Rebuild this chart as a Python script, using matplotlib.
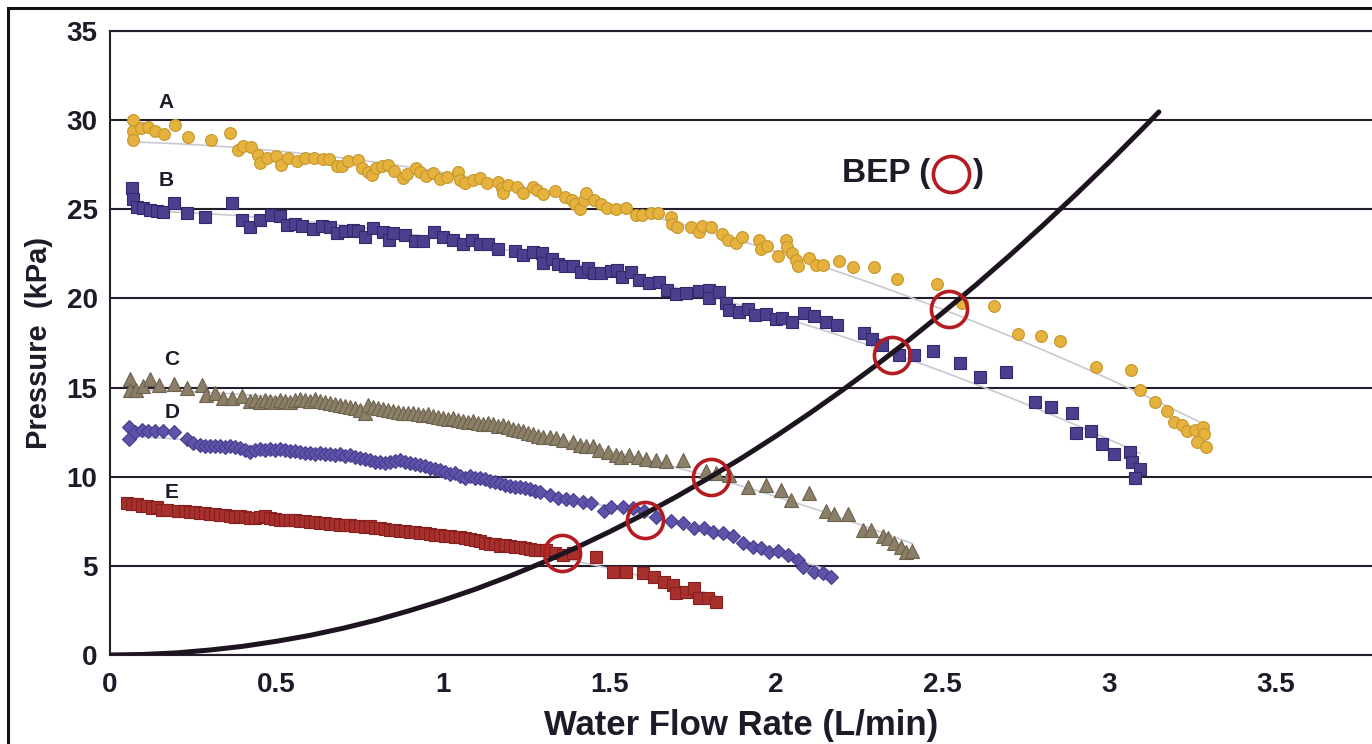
import numpy as np
import matplotlib
matplotlib.use("Agg")
import matplotlib.pyplot as plt
from matplotlib.patches import Rectangle

plt.rcParams["font.family"] = ["Liberation Sans", "DejaVu Sans"]
plt.rcParams["font.weight"] = "bold"

# ---- data ----
a_x = [0.069, 0.069, 0.069, 0.093, 0.114, 0.135, 0.162, 0.195, 0.234, 0.303, 0.36, 0.384, 0.399, 0.423,
       0.444, 0.45, 0.47, 0.50, 0.513, 0.534, 0.561, 0.585, 0.612, 0.639, 0.657, 0.681, 0.696, 0.714,
       0.744, 0.756, 0.774, 0.786, 0.80, 0.816, 0.834, 0.852, 0.879, 0.891, 0.918, 0.93, 0.948, 0.969,
       0.99, 1.011, 1.044, 1.05, 1.065, 1.089, 1.11, 1.131, 1.164, 1.176, 1.179, 1.194, 1.221, 1.239,
       1.269, 1.281, 1.299, 1.335, 1.365, 1.386, 1.395, 1.41, 1.425, 1.431, 1.455, 1.476, 1.494, 1.521,
       1.551, 1.581, 1.599, 1.626, 1.647, 1.686, 1.689, 1.704, 1.746, 1.77, 1.779, 1.806, 1.839, 1.857,
       1.881, 1.899, 1.95, 1.956, 1.974, 2.007, 2.031, 2.034, 2.049, 2.061, 2.067, 2.10, 2.121, 2.142,
       2.19, 2.232, 2.295, 2.364, 2.484, 2.559, 2.655, 2.727, 2.796, 2.853, 2.961, 3.066, 3.093, 3.138,
       3.174, 3.195, 3.219, 3.234, 3.258, 3.282, 3.285, 3.264, 3.291]
a_y = [30.0, 29.4, 28.9, 29.55, 29.6, 29.4, 29.2, 29.7, 29.05, 28.9, 29.3, 28.3, 28.55, 28.5,
       28.05, 27.6, 27.9, 28.0, 27.5, 27.85, 27.7, 27.85, 27.85, 27.8, 27.8, 27.4, 27.4, 27.7,
       27.75, 27.3, 27.1, 26.9, 27.3, 27.4, 27.5, 27.15, 26.75, 27.0, 27.3, 27.1, 26.85, 27.05,
       26.7, 26.8, 27.1, 26.65, 26.5, 26.65, 26.75, 26.5, 26.55, 26.2, 25.9, 26.35, 26.25, 25.9,
       26.25, 26.1, 25.85, 26.0, 25.7, 25.5, 25.3, 25.0, 25.5, 25.9, 25.5, 25.3, 25.05, 25.0,
       25.1, 24.7, 24.7, 24.8, 24.8, 24.55, 24.2, 24.0, 24.0, 23.7, 24.05, 24.0, 23.6, 23.3,
       23.1, 23.45, 23.3, 22.8, 22.95, 22.4, 23.3, 22.9, 22.55, 22.15, 21.8, 22.25, 21.9, 21.85,
       22.1, 21.75, 21.75, 21.1, 20.8, 19.75, 19.6, 18.0, 17.9, 17.6, 16.15, 16.0, 14.85, 14.2,
       13.7, 13.05, 12.9, 12.55, 12.6, 12.8, 12.4, 11.95, 11.65]

b_x = [0.066, 0.069, 0.081, 0.099, 0.12, 0.141, 0.159, 0.192, 0.231, 0.285, 0.366, 0.396, 0.42, 0.45,
       0.483, 0.51, 0.531, 0.555, 0.576, 0.609, 0.636, 0.66, 0.681, 0.705, 0.729, 0.744, 0.765, 0.789,
       0.819, 0.837, 0.849, 0.885, 0.915, 0.939, 0.972, 0.999, 1.029, 1.059, 1.086, 1.11, 1.134, 1.164,
       1.215, 1.239, 1.269, 1.296, 1.299, 1.326, 1.344, 1.365, 1.389, 1.413, 1.437, 1.455, 1.476, 1.506,
       1.524, 1.539, 1.566, 1.59, 1.62, 1.65, 1.674, 1.701, 1.731, 1.77, 1.80, 1.80, 1.83, 1.851, 1.86,
       1.89, 1.917, 1.938, 1.971, 2.001, 2.019, 2.049, 2.085, 2.115, 2.151, 2.184, 2.265, 2.289, 2.319,
       2.37, 2.415, 2.472, 2.553, 2.613, 2.691, 2.778, 2.826, 2.889, 2.901, 2.946, 2.979, 3.015, 3.063,
       3.069, 3.093, 3.078]
b_y = [26.2, 25.6, 25.15, 25.1, 24.95, 24.9, 24.85, 25.35, 24.8, 24.55, 25.35, 24.4, 24.0, 24.4,
       24.7, 24.6, 24.1, 24.2, 24.05, 23.9, 24.05, 24.0, 23.65, 23.8, 23.85, 23.8, 23.45, 23.95,
       23.75, 23.3, 23.65, 23.55, 23.2, 23.2, 23.7, 23.45, 23.3, 23.05, 23.3, 23.05, 23.05, 22.8,
       22.65, 22.45, 22.6, 22.55, 22.0, 22.2, 21.95, 21.8, 21.8, 21.5, 21.7, 21.45, 21.45, 21.55,
       21.6, 21.2, 21.5, 21.05, 20.85, 20.9, 20.45, 20.25, 20.3, 20.4, 20.5, 20.0, 20.35, 19.75, 19.35,
       19.25, 19.4, 19.05, 19.1, 18.85, 18.9, 18.7, 19.2, 19.0, 18.7, 18.5, 18.05, 17.7, 17.4,
       16.8, 16.8, 17.05, 16.4, 15.6, 15.9, 14.2, 13.9, 13.6, 12.45, 12.55, 11.85, 11.3, 11.4,
       10.8, 10.45, 9.9]

c_x = [0.06, 0.06, 0.078, 0.099, 0.12, 0.147, 0.192, 0.231, 0.276, 0.288, 0.315, 0.339, 0.366, 0.396,
       0.42, 0.435, 0.45, 0.465, 0.48, 0.495, 0.51, 0.525, 0.54, 0.555, 0.57, 0.585, 0.60, 0.615,
       0.63, 0.645, 0.66, 0.675, 0.69, 0.705, 0.72, 0.735, 0.75, 0.765, 0.775, 0.79, 0.805, 0.82,
       0.835, 0.85, 0.865, 0.88, 0.895, 0.91, 0.925, 0.94, 0.955, 0.97, 0.985, 1.0, 1.015, 1.03,
       1.045, 1.06, 1.075, 1.09, 1.105, 1.12, 1.135, 1.15, 1.165, 1.18, 1.195, 1.21, 1.225, 1.24,
       1.255, 1.27, 1.285, 1.30, 1.32, 1.34, 1.36, 1.39, 1.41, 1.43, 1.45, 1.47, 1.495, 1.52, 1.535,
       1.56, 1.585, 1.61, 1.64, 1.67, 1.72, 1.79, 1.82, 1.86, 1.915, 1.97, 2.015, 2.045, 2.10, 2.15,
       2.175, 2.215, 2.26, 2.285, 2.32, 2.335, 2.355, 2.375, 2.39, 2.41]
c_y = [15.5, 14.85, 14.85, 15.1, 15.5, 15.15, 15.2, 14.95, 15.15, 14.6, 14.7, 14.4, 14.4, 14.5,
       14.25, 14.3, 14.2, 14.3, 14.25, 14.2, 14.3, 14.25, 14.2, 14.3, 14.35, 14.3, 14.25, 14.35,
       14.25, 14.2, 14.15, 14.1, 14.05, 13.95, 13.9, 13.85, 13.75, 13.6, 14.05, 13.9, 13.85, 13.8,
       13.75, 13.7, 13.65, 13.6, 13.55, 13.6, 13.5, 13.45, 13.5, 13.4, 13.35, 13.3, 13.25, 13.3,
       13.2, 13.1, 13.05, 13.1, 13.0, 12.95, 13.0, 12.95, 12.85, 12.9, 12.8, 12.7, 12.6, 12.55,
       12.45, 12.4, 12.3, 12.2, 12.2, 12.15, 12.05, 11.95, 11.8, 11.7, 11.7, 11.5, 11.4, 11.2, 11.1,
       11.2, 11.1, 11.0, 10.95, 10.9, 10.95, 10.3, 10.2, 10.1, 9.45, 9.55, 9.25, 8.7, 9.1, 8.1,
       7.9, 7.9, 7.0, 7.0, 6.65, 6.55, 6.3, 6.05, 5.8, 5.85]

d_x = [0.057, 0.057, 0.075, 0.096, 0.114, 0.135, 0.159, 0.192, 0.231, 0.249, 0.27,
       0.285, 0.30, 0.315, 0.33, 0.345, 0.36, 0.375, 0.39, 0.405, 0.42, 0.435, 0.45, 0.465, 0.48,
       0.495, 0.51, 0.525, 0.54, 0.555, 0.57, 0.585, 0.60, 0.615, 0.63, 0.645, 0.66, 0.675, 0.69,
       0.705, 0.72, 0.735, 0.75, 0.765, 0.78, 0.795, 0.81, 0.825, 0.84, 0.855, 0.87, 0.885, 0.90,
       0.915, 0.93, 0.945, 0.96, 0.975, 0.99, 1.005, 1.02, 1.035, 1.05, 1.065, 1.08, 1.095, 1.11,
       1.125, 1.14, 1.155, 1.17, 1.185, 1.20, 1.215, 1.23, 1.245, 1.26, 1.275, 1.29, 1.32, 1.345,
       1.37, 1.39, 1.42, 1.445, 1.485, 1.505, 1.54, 1.57, 1.605, 1.64, 1.685, 1.72, 1.755, 1.785,
       1.81, 1.84, 1.87, 1.90, 1.93, 1.955, 1.98, 2.005, 2.035, 2.065, 2.08, 2.115, 2.14, 2.165]
d_y = [12.8, 12.1, 12.5, 12.6, 12.55, 12.55, 12.55, 12.5, 12.1, 11.9, 11.8,
       11.75, 11.7, 11.75, 11.7, 11.65, 11.7, 11.65, 11.6, 11.5, 11.4, 11.5, 11.55, 11.5, 11.55,
       11.5, 11.55, 11.5, 11.45, 11.45, 11.4, 11.35, 11.35, 11.3, 11.35, 11.25, 11.25, 11.2, 11.25,
       11.15, 11.2, 11.1, 11.05, 11.0, 10.95, 10.85, 10.8, 10.75, 10.8, 10.9, 10.95, 10.8, 10.75,
       10.7, 10.65, 10.6, 10.5, 10.45, 10.35, 10.25, 10.15, 10.2, 10.05, 9.95, 10.05, 9.95, 9.9,
       9.85, 9.75, 9.7, 9.65, 9.55, 9.5, 9.45, 9.4, 9.35, 9.3, 9.2, 9.15, 8.97, 8.8,
       8.75, 8.7, 8.6, 8.5, 8.1, 8.3, 8.3, 8.25, 8.1, 7.75, 7.5, 7.4, 7.1, 7.1,
       6.9, 6.85, 6.7, 6.3, 6.05, 6.0, 5.8, 5.85, 5.6, 5.35, 4.95, 4.65, 4.6, 4.4]

e_x = [0.05, 0.065, 0.08, 0.095, 0.11, 0.125, 0.14, 0.155, 0.17, 0.205, 0.225, 0.24, 0.255, 0.27,
       0.285, 0.30, 0.315, 0.33, 0.345, 0.36, 0.375, 0.39, 0.405, 0.42, 0.435, 0.45, 0.465, 0.48,
       0.495, 0.51, 0.525, 0.54, 0.555, 0.57, 0.585, 0.60, 0.615, 0.63, 0.645, 0.66, 0.675, 0.69,
       0.705, 0.72, 0.735, 0.75, 0.765, 0.78, 0.795, 0.81, 0.825, 0.84, 0.855, 0.87, 0.885, 0.90,
       0.915, 0.93, 0.945, 0.96, 0.975, 0.99, 1.005, 1.02, 1.035, 1.05, 1.065, 1.08, 1.095, 1.11,
       1.125, 1.14, 1.155, 1.17, 1.185, 1.20, 1.215, 1.23, 1.245, 1.26, 1.275, 1.29, 1.31, 1.335,
       1.36, 1.39, 1.46, 1.51, 1.55, 1.60, 1.635, 1.665, 1.69, 1.70, 1.73, 1.755, 1.77, 1.795, 1.82]
e_y = [8.55, 8.45, 8.45, 8.35, 8.35, 8.25, 8.3, 8.15, 8.15, 8.1, 8.05, 8.0, 8.0, 7.95,
       7.95, 7.9, 7.9, 7.85, 7.85, 7.8, 7.75, 7.8, 7.75, 7.7, 7.7, 7.75, 7.8, 7.7,
       7.65, 7.6, 7.6, 7.55, 7.55, 7.5, 7.5, 7.45, 7.45, 7.4, 7.4, 7.35, 7.35, 7.3,
       7.3, 7.3, 7.25, 7.25, 7.2, 7.25, 7.15, 7.1, 7.05, 7.0, 7.0, 6.95, 6.95, 6.9,
       6.9, 6.85, 6.85, 6.8, 6.75, 6.75, 6.7, 6.65, 6.6, 6.6, 6.55, 6.5, 6.45, 6.4,
       6.3, 6.25, 6.2, 6.1, 6.15, 6.1, 6.05, 6.05, 6.0, 5.95, 5.9, 5.9, 5.9, 5.7,
       5.6, 5.7, 5.5, 4.65, 4.65, 4.6, 4.4, 4.1, 3.9, 3.5, 3.55, 3.75, 3.2, 3.2, 3.0]

# system curve
sys_x = [0.0, 0.1, 0.2, 0.3, 0.4, 0.5, 0.6, 0.7, 0.8, 0.9, 1.0, 1.1, 1.2, 1.3, 1.4, 1.5, 1.6,
         1.7, 1.8, 1.9, 2.0, 2.1, 2.2, 2.3, 2.4, 2.5, 2.6, 2.7, 2.8, 2.9, 3.0, 3.1, 3.15]
sys_y = [0.0, 0.03, 0.12, 0.28, 0.49, 0.77, 1.1, 1.5, 1.96, 2.49, 3.07, 3.71, 4.42, 5.19, 6.02,
         6.91, 7.86, 8.87, 9.95, 11.08, 12.28, 13.54, 14.86, 16.24, 17.68, 19.19, 20.75, 22.38,
         24.07, 25.82, 27.63, 29.5, 30.46]

# best efficiency points
bep_x = [1.357, 1.608, 1.806, 2.349, 2.52]
bep_y = [5.7, 7.6, 10.0, 16.8, 19.4]

series = [
    ("A", a_x, a_y, "o", 8.5, "#e6b23e", "#c4962c"),
    ("B", b_x, b_y, "s", 8.5, "#4b3f8e", "#35296e"),
    ("C", c_x, c_y, "^", 10, "#8c7f68", "#6d624e"),
    ("D", d_x, d_y, "D", 7.5, "#5d54aa", "#463d8e"),
    ("E", e_x, e_y, "s", 8.5, "#a8302c", "#862020"),
]
label_pos = {"A": (0.168, 31.0), "B": (0.168, 26.6), "C": (0.186, 16.6),
             "D": (0.186, 13.6), "E": (0.186, 9.1)}

ink = "#1e1a28"
W, H = 1372, 744
fig = plt.figure(figsize=(W / 100, H / 100), dpi=100)
ax = fig.add_axes([110 / W, 89 / H, (W - 110) / W, 624 / H])

# trend lines (quadratic fit of each series)
for name, xs, ys, m, ms, fc, ec in series:
    p = np.polyfit(xs, ys, 2)
    xx = np.linspace(min(xs), max(xs), 200)
    ax.plot(xx, np.polyval(p, xx), color="#c9c9d3", lw=1.2, zorder=2)

for name, xs, ys, m, ms, fc, ec in series:
    ax.plot(xs, ys, linestyle="none", marker=m, ms=ms, mfc=fc, mec=ec, mew=0.8, zorder=3)
    lx, ly = label_pos[name]
    ax.text(lx, ly, name, fontsize=15, fontweight="bold", color=ink, ha="center", va="center")

ax.plot(sys_x, sys_y, color="#1d1420", lw=3.6, solid_capstyle="round", solid_joinstyle="round",
        zorder=4)
ax.plot(bep_x, bep_y, linestyle="none", marker="o", ms=26, mfc="none", mec="#b51c22", mew=2.6, zorder=5)

# BEP legend text
ax.text(2.465, 27.0, "BEP (", fontsize=24, fontweight="bold", color=ink, ha="right", va="center")
ax.plot([2.525], [27.0], marker="o", ms=26, mfc="none", mec="#b51c22", mew=2.6, clip_on=False)
ax.text(2.588, 27.0, ")", fontsize=24, fontweight="bold", color=ink, ha="left", va="center")

ax.set_xlim(0, 3.79)
ax.set_ylim(0, 35)
ax.set_xticks([0, 0.5, 1, 1.5, 2, 2.5, 3, 3.5])
ax.set_xticklabels(["0", "0.5", "1", "1.5", "2", "2.5", "3", "3.5"])
ax.set_yticks([0, 5, 10, 15, 20, 25, 30, 35])
ax.tick_params(length=0, labelsize=20, colors=ink)
ax.tick_params(axis="x", pad=12)
ax.tick_params(axis="y", pad=9)
for lab in ax.get_xticklabels() + ax.get_yticklabels():
    lab.set_fontweight("bold")
ax.yaxis.grid(True, color="#251c2c", lw=1.5)
ax.set_axisbelow(True)
for s in ["left", "bottom", "top"]:
    ax.spines[s].set_color("#251c2c")
    ax.spines[s].set_linewidth(1.5)
ax.spines["right"].set_visible(False)

ax.set_xlabel("Water Flow Rate (L/min)", fontsize=25, fontweight="bold", color=ink, labelpad=8)
ax.set_ylabel("Pressure  (kPa)", fontsize=21, fontweight="bold", color=ink, labelpad=10)

# outer frame, cut by the picture edge on the right and bottom
fig.patches.append(Rectangle((8 / W, -0.1), 1.2, (H - 8) / H + 0.1, transform=fig.transFigure,
                             fill=False, lw=2.2, ec="#151018"))

fig.savefig("out.png", dpi=100)
